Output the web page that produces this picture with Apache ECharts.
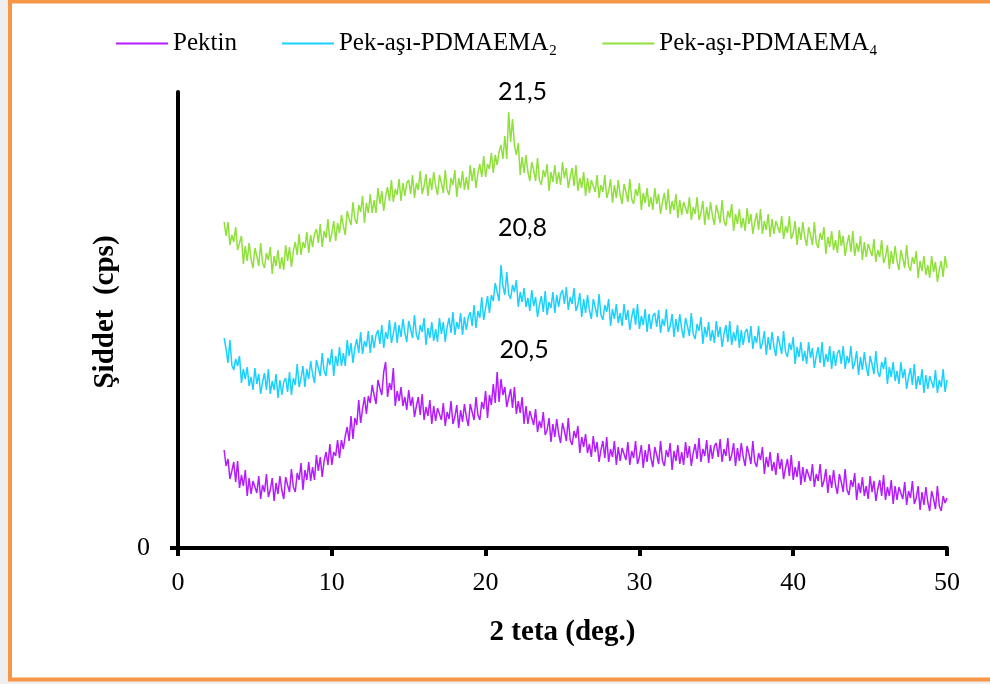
<!DOCTYPE html>
<html>
<head>
<meta charset="utf-8">
<script src="https://cdn.jsdelivr.net/npm/echarts@6/dist/echarts.min.js"></script>
<style>
html,body{margin:0;padding:0;background:#fff;}
#chart{width:990px;height:684px;}
</style>
</head>
<body>
<div id="chart"></div>
<script>
// 2θ sampling grid (degrees)
const thetaStart = 3, thetaStep = 0.125;

const seriesNames = ['Pektin', 'Pek-aşı-PDMAEMA₂', 'Pek-aşı-PDMAEMA₄'];
const xTicks = [0, 10, 20, 30, 40, 50];

// intensity (arbitrary units), one value every 0.125°
const pektin = [
98,82,89,69,77,86,66,87,60,73,62,78,52,70,54,67,69,55,72,49,63,56,74,51,58,70,47,65,54,72,58,49,
71,63,56,79,61,56,75,68,85,58,78,68,86,67,81,68,93,77,91,71,87,96,83,104,83,96,92,108,90,108,99,112,
121,107,132,109,130,123,148,125,139,151,134,152,145,163,153,144,168,160,153,176,186,151,165,158,180,142,157,147,161,142,151,138,
158,142,151,131,142,151,133,154,128,141,132,148,124,142,127,140,142,128,145,122,136,129,147,124,131,143,120,138,126,144,131,122,
144,136,128,151,133,128,146,139,157,130,153,143,164,145,176,146,169,153,161,141,150,159,140,161,134,147,135,151,124,142,124,137,
137,123,139,116,127,120,136,113,118,130,106,124,111,129,114,105,125,117,107,130,108,103,117,110,122,95,111,101,114,95,104,91,
112,96,106,86,98,107,90,111,86,99,91,107,83,101,87,100,102,88,106,83,97,90,107,84,91,103,80,98,86,104,90,81,
101,93,84,107,87,82,98,91,105,78,97,87,103,84,96,83,106,90,102,82,95,104,89,110,86,99,92,108,85,103,89,102,
105,91,109,86,99,92,110,87,93,105,82,100,87,105,91,82,102,94,84,107,86,81,95,88,101,74,91,81,96,77,86,73,
95,79,89,69,80,89,72,93,68,81,71,87,63,81,66,79,81,67,84,61,74,67,84,61,67,79,55,73,60,78,63,54,
74,66,56,79,58,53,68,61,75,48,65,55,71,52,62,49,72,56,67,47,59,68,52,73,48,61,52,68,44,62,48,61,
63,49,66,43,57,50,67,44,50,62,38,56,43,61,46,37,57,49,39,62,42,37,52,45,50];

const pdmaema2 = [
210,199,185,208,183,178,189,182,192,165,179,169,181,162,171,158,180,164,174,154,166,175,158,179,154,167,158,174,150,168,153,166,
170,156,176,153,170,163,184,161,170,182,161,179,169,187,174,165,188,180,172,195,177,172,190,183,199,172,192,182,201,182,195,182,
208,192,205,185,200,209,195,216,194,207,201,217,195,213,200,213,218,204,223,200,216,209,228,205,214,226,205,223,211,229,215,206,
227,219,210,233,213,208,223,216,230,203,220,210,226,207,219,206,230,214,226,206,221,230,215,236,213,226,219,235,213,231,218,231,
236,222,243,220,237,230,251,228,240,252,235,253,247,265,256,247,283,262,253,276,254,249,263,256,268,241,256,246,260,241,250,237,
258,242,251,231,243,252,236,257,233,246,240,256,235,253,241,254,258,244,261,238,251,244,260,237,243,255,231,249,235,253,238,229,
249,241,231,254,233,228,243,236,249,222,239,229,244,225,235,222,244,228,238,218,231,240,223,244,219,232,223,239,216,234,219,232,
235,221,238,215,229,222,239,216,222,234,211,229,216,234,219,210,230,222,212,235,214,209,224,217,231,204,221,211,226,207,218,205,
227,211,221,201,214,223,206,227,203,216,207,223,200,218,203,216,219,205,222,199,212,205,222,199,205,217,193,211,198,216,201,192,
212,204,194,217,196,191,205,198,211,184,201,191,206,187,197,184,206,190,200,180,192,201,185,206,181,194,186,202,179,197,182,195,
198,184,202,179,192,185,202,179,185,197,173,191,178,196,181,172,192,184,174,197,176,171,186,179,191,164,181,171,186,167,177,164,
186,170,179,159,171,180,163,184,159,172,163,179,155,173,159,172,174,160,178,155,168,161,179,156,168];

const pdmaema4 = [
326,312,326,303,313,306,321,298,300,312,284,302,287,305,289,280,300,292,282,305,285,280,295,288,301,274,292,282,298,279,291,278,
303,287,301,281,297,306,293,314,293,306,300,316,295,313,301,314,319,305,324,301,317,310,329,306,315,327,307,325,315,333,322,313,
337,329,323,346,329,324,343,336,352,325,345,335,354,335,348,335,360,344,357,337,352,361,347,368,346,359,353,369,347,365,352,365,
368,354,373,350,365,358,377,354,362,374,352,370,358,376,362,353,373,365,355,378,358,353,370,363,378,351,370,360,377,358,371,358,
383,367,380,360,375,384,371,392,371,384,379,395,375,393,383,396,403,389,412,389,436,406,429,403,393,405,373,391,375,393,376,367,
386,378,367,390,368,363,378,371,384,357,376,366,383,364,376,363,386,370,380,360,371,380,362,383,357,370,360,376,352,370,355,368,
370,356,373,350,363,356,373,350,357,369,345,363,350,368,353,344,364,356,346,369,349,344,359,352,365,338,355,345,360,341,351,338,
360,344,354,334,346,355,338,359,334,347,338,354,330,348,333,346,348,334,351,328,341,334,351,328,335,347,323,341,328,346,332,323,
343,335,325,348,327,322,337,330,344,317,334,324,339,320,330,317,340,324,334,314,326,335,318,339,314,327,318,334,311,329,314,327,
329,315,332,309,322,315,332,309,315,327,303,321,308,326,311,302,321,313,303,326,305,300,315,308,321,294,311,301,317,298,308,295,
318,302,312,292,304,313,296,317,292,305,296,312,288,306,291,304,306,292,309,286,298,291,308,285,291,303,279,297,284,302,287,278,
298,290,280,303,282,277,291,284,297,270,287,277,292,273,283,270,292,276,286,266,278,287,271,292,280];

// the 2θ value of every sample
const twoTheta = pektin.map((_, i) => +(thetaStart + i * thetaStep).toFixed(3));

// peak annotations: [2θ of label, intensity of label, text]
const peakLabels = [
  [22.5, 198, '20,5'],
  [22.4, 320, '20,8'],
  [22.4, 456, '21,5']
];

const colors = ['#b41cff', '#1ad0ff', '#8fe03a'];
const dataSets = [pektin, pdmaema2, pdmaema4];

const chart = echarts.init(document.getElementById('chart'), null, {renderer: 'canvas'});
const serif = '"Liberation Serif", "Times New Roman", serif';

const series = dataSets.map((arr, k) => ({
  name: seriesNames[k],
  type: 'line',
  data: arr.map((v, i) => [twoTheta[i], v]),
  symbol: 'none',
  color: colors[k],
  lineStyle: {width: 1.5, color: colors[k]},
  animation: false,
  z: 3,
  markPoint: {
    symbol: 'circle',
    symbolSize: 0,
    silent: true,
    animation: false,
    label: {
      show: true,
      position: 'inside',
      formatter: peakLabels[k][2],
      color: '#000',
      fontFamily: 'Lato, "Open Sans", sans-serif',
      fontSize: 25
    },
    data: [{coord: [peakLabels[k][0], peakLabels[k][1]]}]
  }
}));

chart.setOption({
  backgroundColor: '#efefef',
  animation: false,
  legend: {
    data: seriesNames,
    left: 111,
    top: 26,
    icon: 'rect',
    itemWidth: 52,
    itemHeight: 2,
    itemGap: 45,
    textStyle: {fontFamily: serif, fontSize: 25, color: '#000'}
  },
  grid: {left: 178, right: 43, top: 92, bottom: 136, containLabel: false},
  xAxis: {
    type: 'value',
    min: 0, max: 50, interval: 10,
    name: '2 teta (deg.)',
    nameLocation: 'middle',
    nameGap: 70,
    nameTextStyle: {fontFamily: serif, fontSize: 29, fontWeight: 'bold', color: '#000'},
    axisLine: {show: true, onZero: false, lineStyle: {color: '#000', width: 4}},
    axisTick: {show: true, inside: false, length: 8, lineStyle: {color: '#000', width: 4}},
    axisLabel: {fontFamily: serif, fontSize: 26, color: '#000', margin: 22,
      formatter: v => xTicks.includes(v) ? String(v) : ''},
    splitLine: {show: false}
  },
  yAxis: {
    type: 'value',
    min: 0, max: 456,
    name: 'Şiddet  (cps)',
    nameLocation: 'middle',
    nameGap: 58,
    nameTextStyle: {fontFamily: serif, fontSize: 29, fontWeight: 'bold', color: '#000', padding: [0, 0, 0, 16]},
    axisLine: {show: true, lineStyle: {color: '#000', width: 4}},
    axisTick: {show: true, length: 8, lineStyle: {color: '#000', width: 4}, customValues: [0]},
    axisLabel: {fontFamily: serif, fontSize: 26, color: '#000', margin: 28, customValues: [0]},
    splitLine: {show: false}
  },
  graphic: [{
    type: 'rect',
    silent: true,
    shape: {x: 10, y: 1.5, width: 985, height: 678},
    style: {fill: '#fff', stroke: null},
    z: -10
  }, {
    type: 'rect',
    silent: true,
    shape: {x: 10, y: 1.5, width: 985, height: 678},
    style: {fill: null, stroke: '#f79646', lineWidth: 4},
    z: 100
  }],
  series: series
});
</script>
</body>
</html>
